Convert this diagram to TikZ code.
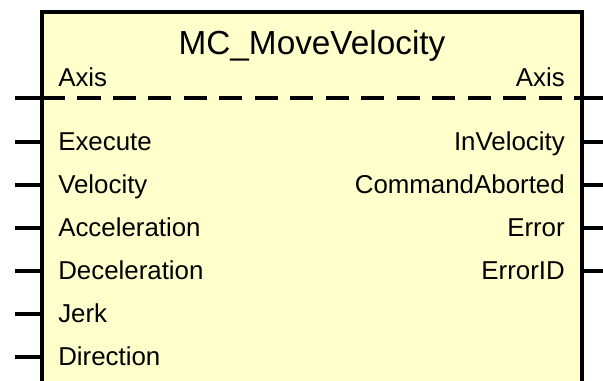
\documentclass[tikz,border=0pt]{standalone}
\usepackage{fontspec}
\setmainfont{Liberation Sans}
\usepackage{xcolor}
\usepackage{tikz}
\usetikzlibrary{calc}
\definecolor{fbyellow}{HTML}{FFFFCC}

\begin{document}
\begin{tikzpicture}[x=0.75pt, y=-0.75pt,
    fbox/.style={draw, fill=fbyellow, line width=2.5pt, outer sep=0pt,
      minimum width=405pt, minimum height=300pt, anchor=north west},
    pinline/.style={line width=2.3pt},
    axisline/.style={line width=2.3pt, dash pattern=on 17.3pt off 9.3pt},
    pinlabel/.style={inner sep=0pt, font=\fontsize{19.4}{23}\selectfont},
    titlelabel/.style={inner sep=0pt, font=\fontsize{25}{30}\selectfont}]
  \useasboundingbox (0,0) rectangle (603,381);
  % the function block (runs off the bottom edge)
  \node[fbox] (fb) at (42,12) {};
  \node[titlelabel, anchor=base] (title) at (312,55) {MC\_MoveVelocity};
  % axis in/out, dashed through the block
  \node[pinlabel, anchor=base west] (axisin) at (58,87) {Axis};
  \node[pinlabel, anchor=base east] (axisout) at (565,87) {Axis};
  \coordinate (axisL) at (15,98);
  \coordinate (axisR) at (603,98);
  \draw[pinline] (axisL) -- (axisL -| fb.west);
  \draw[axisline] (axisL -| fb.west) -- (axisR -| fb.east);
  \draw[pinline] (axisR -| fb.east) -- (axisR);
  % inputs
  \foreach \lbl [count=\i] in {Execute,Velocity,Acceleration,Deceleration,Jerk,Direction} {
    \node[pinlabel, anchor=base west] (in\i) at (58,107.5+43*\i) {\lbl};
    \coordinate (inend\i) at (15,99+43*\i);
    \draw[pinline] (inend\i) -- (inend\i -| fb.west);
  }
  % outputs
  \foreach \lbl [count=\i] in {InVelocity,CommandAborted,Error,ErrorID} {
    \node[pinlabel, anchor=base east] (out\i) at (565,107.5+43*\i) {\lbl};
    \coordinate (outend\i) at (603,99+43*\i);
    \draw[pinline] (outend\i -| fb.east) -- (outend\i);
  }
\end{tikzpicture}
\end{document}
